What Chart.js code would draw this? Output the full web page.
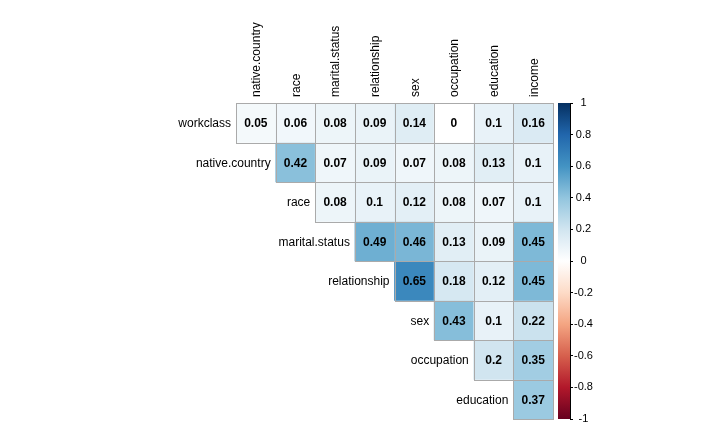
<!DOCTYPE html>
<html>
<head>
<meta charset="utf-8">
<script src="https://cdn.jsdelivr.net/npm/chart.js@4/dist/chart.umd.min.js"></script>
<style>
  html, body { margin: 0; padding: 0; background: #fff; }
  #wrap { position: relative; width: 720px; height: 432px; }
  #main { position: absolute; left: 0; top: 0; }
  #bar { position: absolute; left: 540px; top: 0; }
</style>
</head>
<body>
<div id="wrap">
  <canvas id="main" width="720" height="432"></canvas>
  <canvas id="bar" width="180" height="432"></canvas>
</div>
<script>
// ---- data ----
const colLabels = ["native.country", "race", "marital.status", "relationship", "sex", "occupation", "education", "income"];
const rowLabels = ["workclass", "native.country", "race", "marital.status", "relationship", "sex", "occupation", "education"];
const rowWorkclass     = [0.05, 0.06, 0.08, 0.09, 0.14, 0, 0.1, 0.16];
const rowNativeCountry = [null, 0.42, 0.07, 0.09, 0.07, 0.08, 0.13, 0.1];
const rowRace          = [null, null, 0.08, 0.1, 0.12, 0.08, 0.07, 0.1];
const rowMarital       = [null, null, null, 0.49, 0.46, 0.13, 0.09, 0.45];
const rowRelationship  = [null, null, null, null, 0.65, 0.18, 0.12, 0.45];
const rowSex           = [null, null, null, null, null, 0.43, 0.1, 0.22];
const rowOccupation    = [null, null, null, null, null, null, 0.2, 0.35];
const rowEducation     = [null, null, null, null, null, null, null, 0.37];
const colorbarTicks = [-1, -0.8, -0.6, -0.4, -0.2, 0, 0.2, 0.4, 0.6, 0.8, 1];

const rows = [rowWorkclass, rowNativeCountry, rowRace, rowMarital, rowRelationship, rowSex, rowOccupation, rowEducation];

// RdBu palette from -1 to 1
const palette = ["#67001F", "#B2182B", "#D6604D", "#F4A582", "#FDDBC7", "#FFFFFF",
                 "#D1E5F0", "#92C5DE", "#4393C3", "#2166AC", "#053061"];
function hex2rgb(h) { return [parseInt(h.slice(1,3),16), parseInt(h.slice(3,5),16), parseInt(h.slice(5,7),16)]; }
function corrColor(v) {
  const t = (v + 1) / 2 * (palette.length - 1);
  const i = Math.min(Math.floor(t), palette.length - 2);
  const f = t - i;
  const a = hex2rgb(palette[i]), b = hex2rgb(palette[i + 1]);
  const c = a.map((x, k) => Math.round(x + (b[k] - x) * f));
  return `rgb(${c[0]},${c[1]},${c[2]})`;
}

const gridCol = '#aaaaaa';
const FONT = "'Liberation Sans', Arial, sans-serif";

const datasets = rows.map((vals, i) => ({
  label: rowLabels[i],
  data: vals.map(v => v === null ? null : [i, i + 1]),
  corr: vals,
  backgroundColor: vals.map(v => v === null ? 'rgba(0,0,0,0)' : corrColor(v)),
  borderWidth: 0,
  barPercentage: 1,
  categoryPercentage: 1,
  grouped: false
}));

const labelsPlugin = {
  id: 'cellLabels',
  afterDatasetsDraw(chart) {
    const c = chart.ctx;
    const xs = chart.scales.x, ys = chart.scales.y;
    const cw = (xs.right - xs.left) / colLabels.length;
    c.save();
    // cell grid lines, snapped to pixels (shared edges coincide)
    c.strokeStyle = gridCol;
    c.lineWidth = 1;
    chart.data.datasets.forEach((ds, i) => {
      const meta = chart.getDatasetMeta(i);
      meta.data.forEach((el, j) => {
        if (ds.corr[j] === null) return;
        const x0 = Math.round(el.x - el.width / 2) + 0.5;
        const x1 = Math.round(el.x + el.width / 2) + 0.5;
        const y0 = Math.round(Math.min(el.y, el.base)) + 0.5;
        const y1 = Math.round(Math.max(el.y, el.base)) + 0.5;
        c.strokeRect(x0, y0, x1 - x0, y1 - y0);
      });
    });
    // cell values
    c.font = "bold 12px " + FONT;
    c.fillStyle = '#000';
    c.textAlign = 'center';
    c.textBaseline = 'middle';
    chart.data.datasets.forEach((ds, i) => {
      const meta = chart.getDatasetMeta(i);
      meta.data.forEach((el, j) => {
        const v = ds.corr[j];
        if (v === null) return;
        const cy = (el.y + el.base) / 2;
        c.fillText(String(v), el.x, cy + 1);
      });
    });
    // row labels at the diagonal
    c.font = "12px " + FONT;
    c.textAlign = 'right';
    rowLabels.forEach((lab, i) => {
      const left = xs.getPixelForValue(i) - cw / 2;
      const cy = ys.getPixelForValue(i + 0.5);
      c.fillText(lab, left - 5, cy + 1);
    });
    // column labels (rotated) above the grid
    c.textAlign = 'left';
    c.textBaseline = 'middle';
    colLabels.forEach((lab, j) => {
      const cx = xs.getPixelForValue(j);
      c.save();
      c.translate(cx + 1, ys.top - 6);
      c.rotate(-Math.PI / 2);
      c.fillText(lab, 0, 0);
      c.restore();
    });
    c.restore();
  }
};

new Chart(document.getElementById('main'), {
  type: 'bar',
  data: { labels: colLabels, datasets },
  options: {
    responsive: false,
    animation: false,
    events: [],
    layout: { padding: { left: 236, right: 167, top: 103, bottom: 13 } },
    plugins: { legend: { display: false }, tooltip: { enabled: false } },
    scales: {
      x: { display: false },
      y: {
        type: 'linear',
        min: 0, max: 8,
        reverse: true,
        display: false
      }
    }
  },
  plugins: [labelsPlugin]
});

// ---- colour bar ----
new Chart(document.getElementById('bar'), {
  type: 'bar',
  data: {
    labels: ['c'],
    datasets: [{
      data: [[-1, 1]],
      backgroundColor: (ctx) => {
        const chart = ctx.chart;
        const ys = chart.scales.y;
        if (!ys || !chart.chartArea) return '#fff';
        const y0 = ys.getPixelForValue(-1), y1 = ys.getPixelForValue(1);
        if (!isFinite(y0) || !isFinite(y1)) return '#fff';
        const g = chart.ctx.createLinearGradient(0, y0, 0, y1);
        palette.forEach((p, k) => g.addColorStop(k / (palette.length - 1), p));
        return g;
      },
      borderWidth: 0,
      barPercentage: 1,
      categoryPercentage: 1
    }]
  },
  options: {
    responsive: false,
    animation: false,
    events: [],
    layout: { padding: { left: 18, right: 108, top: 103, bottom: 13 } },
    plugins: { legend: { display: false }, tooltip: { enabled: false } },
    scales: {
      x: { display: false },
      y: {
        type: 'linear',
        position: 'right',
        min: -1, max: 1,
        afterBuildTicks: (s) => { s.ticks = colorbarTicks.map(v => ({ value: v })); },
        grid: { drawOnChartArea: false, drawTicks: true, tickLength: 3, color: '#000' },
        border: { display: true, color: '#000', width: 1 },
        ticks: { padding: 1, crossAlign: 'center', color: '#000', font: { family: FONT, size: 11 },
                 callback: (v) => String(Math.round(v * 10) / 10) },
        afterFit: (s) => { s.width = 42; }
      }
    }
  }
});
</script>
</body>
</html>
